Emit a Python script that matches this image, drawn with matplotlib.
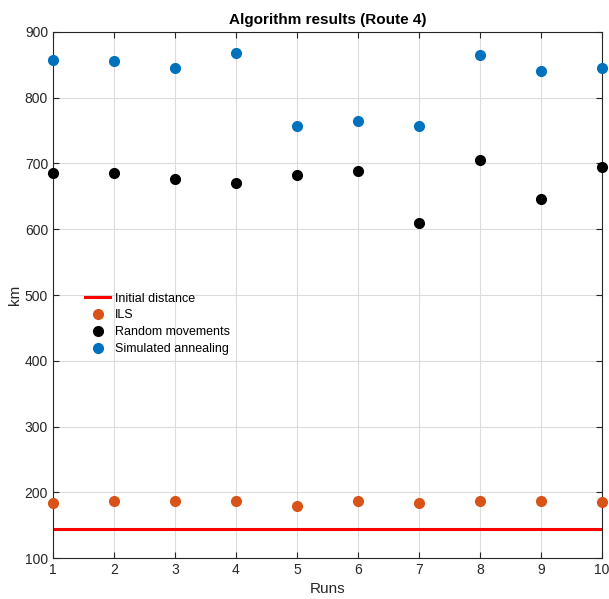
import numpy as np
import matplotlib
matplotlib.use("Agg")
import matplotlib.pyplot as plt

plt.rcParams["font.family"] = ["Liberation Sans", "DejaVu Sans"]

# Data.
runs = [1, 2, 3, 4, 5, 6, 7, 8, 9, 10]
initial_distance = 144
ils = [184, 186, 186, 186, 179, 186, 183, 186, 186, 185]
random_movements = [685, 685, 676, 671, 682, 688, 609, 706, 646, 695]
simulated_annealing = [858, 856, 845, 868, 757, 764, 757, 865, 841, 845]

fig = plt.figure(figsize=(6.09, 5.99), dpi=100)
ax = fig.add_axes([0.087, 0.0684, 0.9015, 0.8782])

ax.plot([runs[0], runs[-1]], [initial_distance, initial_distance],
        color="#ff0000", linewidth=2.2, label="Initial distance")
ax.plot(runs, ils, "o", color="#d95319", markersize=7, linestyle="none",
        label="ILS", clip_on=False, zorder=3)
ax.plot(runs, random_movements, "o", color="black", markersize=7,
        linestyle="none", label="Random movements", clip_on=False, zorder=3)
ax.plot(runs, simulated_annealing, "o", color="#0072bd", markersize=7,
        linestyle="none", label="Simulated annealing", clip_on=False, zorder=3)

ax.set_xlim(1, 10)
ax.set_ylim(100, 900)
ax.set_xticks(runs)
ax.set_yticks(np.arange(100, 901, 100))
ax.grid(True, color="#dcdcdc", linewidth=0.8)
ax.set_axisbelow(True)
ax.tick_params(direction="in", top=True, right=True, labelsize=10,
               colors="#262626", length=4)
for spine in ax.spines.values():
    spine.set_color("#262626")
    spine.set_linewidth(0.8)

ax.set_xlabel("Runs", fontsize=11, color="#262626")
ax.set_ylabel("km", fontsize=11, color="#262626", labelpad=2)
ax.set_title("Algorithm results (Route 4)", fontsize=11, fontweight="bold")

ax.legend(loc="upper left", bbox_to_anchor=(0.043, 0.521), frameon=False,
          fontsize=9, handlelength=2.0, handletextpad=0.35,
          borderpad=0.2, labelspacing=0.38)

fig.savefig("out.png", dpi=100)
